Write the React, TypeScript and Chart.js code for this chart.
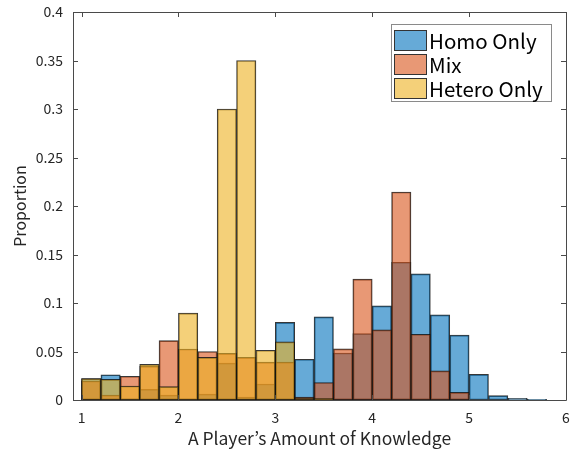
import React, { useEffect, useRef } from "react";
import { Chart, registerables } from "chart.js";

Chart.register(...registerables);

// Bin centers (bin width 0.2, from 1.0 to 5.8)
const binCenters = [
  1.1, 1.3, 1.5, 1.7, 1.9, 2.1, 2.3, 2.5, 2.7, 2.9, 3.1, 3.3,
  3.5, 3.7, 3.9, 4.1, 4.3, 4.5, 4.7, 4.9, 5.1, 5.3, 5.5, 5.7,
];

const homoOnly = [
  0.022, 0.026, null, 0.011, 0.005, null, 0.006, 0.038, 0.003, 0.0165, 0.080, 0.042,
  0.0857, 0.0485, 0.0685, 0.097, 0.142, 0.130, 0.0878, 0.0668, 0.0265, 0.0045, 0.0017, 0.0006,
];

const mix = [
  0.0196, 0.005, 0.0245, 0.035, 0.0612, 0.0526, 0.050, 0.048, 0.044, 0.039, 0.039, 0.003,
  0.018, 0.0527, 0.1246, 0.0723, 0.2144, 0.0678, 0.030, 0.0079, null, null, null, null,
];

const heteroOnly = [
  0.022, 0.0213, 0.0144, 0.0368, 0.0138, 0.0895, 0.044, 0.300, 0.350, 0.0513, 0.060, 0.002,
  0.0017, null, null, null, null, null, null, null, null, null, null, null,
];

const seriesLabels = ["Homo Only", "Mix", "Hetero Only"];
const seriesColors = [
  "rgba(0,114,189,0.6)",
  "rgba(217,83,25,0.6)",
  "rgba(237,177,32,0.6)",
];

const xTicks = [1, 2, 3, 4, 5, 6];
const xTickLabels = ["1", "2", "3", "4", "5", "6"];
const yTicks = [0, 0.05, 0.1, 0.15, 0.2, 0.25, 0.3, 0.35, 0.4];
const yTickLabels = ["0", "0.05", "0.1", "0.15", "0.2", "0.25", "0.3", "0.35", "0.4"];

const xTitle = "A Player’s Amount of Knowledge";
const yTitle = "Proportion";

const tickFont = "'Noto Sans CJK JP', 'Liberation Sans', sans-serif";
const labelFont = "'Noto Sans CJK JP', 'Liberation Sans', sans-serif";

const boxPlugin = {
  id: "matlabBox",
  afterDraw(chart: any) {
    const { ctx, chartArea } = chart;
    const { left, right, top, bottom } = chartArea;
    const xs = chart.scales.x;
    const ys = chart.scales.y;
    ctx.save();
    ctx.strokeStyle = "#4a4a4a";
    ctx.lineWidth = 1;
    ctx.beginPath();
    ctx.rect(Math.round(left) + 0.5, Math.round(top) + 0.5, Math.round(right - left), Math.round(bottom - top));
    ctx.stroke();
    const tl = 5;
    ctx.beginPath();
    xTicks.forEach((v) => {
      const px = Math.round(xs.getPixelForValue(v)) + 0.5;
      ctx.moveTo(px, bottom);
      ctx.lineTo(px, bottom - tl);
      ctx.moveTo(px, top);
      ctx.lineTo(px, top + tl);
    });
    yTicks.forEach((v) => {
      const py = Math.round(ys.getPixelForValue(v)) + 0.5;
      ctx.moveTo(left, py);
      ctx.lineTo(left + tl, py);
      ctx.moveTo(right, py);
      ctx.lineTo(right - tl, py);
    });
    ctx.stroke();

    // Legend
    const bx = 391.5, by = 24.5, bw = 160, bh = 77;
    ctx.fillStyle = "#ffffff";
    ctx.fillRect(bx, by, bw, bh);
    ctx.strokeStyle = "#8a8a8a";
    ctx.strokeRect(bx, by, bw, bh);
    ctx.font = `20.5px ${labelFont}`;
    ctx.textBaseline = "middle";
    ctx.textAlign = "left";
    seriesLabels.forEach((lab, i) => {
      const sy = 30 + i * 24;
      ctx.fillStyle = seriesColors[i];
      ctx.fillRect(394, sy, 33, 21);
      ctx.strokeStyle = "#333333";
      ctx.strokeRect(394.5, sy + 0.5, 32, 20);
      ctx.fillStyle = "#000000";
      ctx.fillText(lab, 429, sy + 11);
    });
    ctx.restore();
  },
};

export default function App() {
  const ref = useRef<HTMLCanvasElement | null>(null);
  useEffect(() => {
    document.body.style.margin = "0";
    if (!ref.current) return;
    const allSeries = [homoOnly, mix, heteroOnly];
    const chart = new Chart(ref.current, {
      type: "bar",
      data: {
        datasets: allSeries.map((s, i) => ({
          label: seriesLabels[i],
          data: binCenters.map((c, j) => ({ x: c, y: s[j] })),
          backgroundColor: seriesColors[i],
          borderColor: "rgba(20,20,20,0.85)",
          borderWidth: 1,
          borderSkipped: false,
          grouped: false,
          barPercentage: 1,
          categoryPercentage: 1,
          order: allSeries.length - i,
        })),
      },
      options: {
        animation: false,
        responsive: false,
        maintainAspectRatio: false,
        layout: { padding: { top: 12, right: 10, left: 0, bottom: 0 } },
        plugins: {
          legend: { display: false },
          tooltip: { enabled: false },
        },
        scales: {
          x: {
            type: "linear",
            min: 0.912,
            max: 6,
            offset: false,
            grid: { display: false, drawTicks: false },
            border: { display: false },
            afterBuildTicks: (scale: any) => {
              scale.ticks = xTicks.map((v) => ({ value: v }));
            },
            afterFit: (scale: any) => {
              scale.height = 50;
              scale.paddingLeft = 0;
              scale.paddingRight = 0;
            },
            ticks: {
              autoSkip: false,
              maxRotation: 0,
              padding: 9,
              color: "#262626",
              font: { size: 14, family: tickFont },
              callback: (_v: any, i: number) => xTickLabels[i],
            },
            title: {
              display: true,
              text: xTitle,
              color: "#262626",
              font: { size: 17.5, family: labelFont },
              padding: { top: 0, bottom: 1 },
            },
          },
          y: {
            type: "linear",
            min: 0,
            max: 0.4,
            grid: { display: false, drawTicks: false },
            border: { display: false },
            afterBuildTicks: (scale: any) => {
              scale.ticks = yTicks.map((v) => ({ value: v }));
            },
            afterFit: (scale: any) => {
              scale.width = 73;
              scale.paddingTop = 0;
              scale.paddingBottom = 0;
            },
            ticks: {
              autoSkip: false,
              padding: 10,
              color: "#262626",
              font: { size: 14, family: tickFont },
              callback: (_v: any, i: number) => yTickLabels[i],
            },
            title: {
              display: true,
              text: yTitle,
              color: "#262626",
              font: { size: 16, family: labelFont },
              padding: { top: 10, bottom: 0 },
            },
          },
        },
      },
      plugins: [boxPlugin],
    });
    return () => chart.destroy();
  }, []);
  return (
    <div style={{ position: "relative", width: 576, height: 450 }}>
      <canvas ref={ref} width={576} height={450} style={{ width: 576, height: 450 }} />
    </div>
  );
}
